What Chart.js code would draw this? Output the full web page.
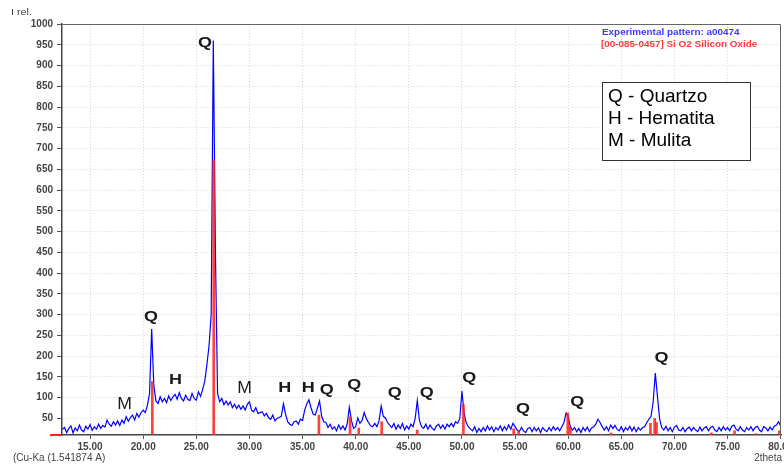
<!DOCTYPE html>
<html>
<head>
<meta charset="utf-8">
<script src="https://cdn.jsdelivr.net/npm/chart.js@4.4.1/dist/chart.umd.min.js"></script>
<style>
  body { margin: 0; background: #fff; }
  #wrap { width: 784px; height: 464px; }
</style>
</head>
<body>
<div id="wrap"><canvas id="xrd" width="784" height="464"></canvas></div>
<script>
// measured pattern, one value every 0.2 deg 2theta starting at 12.4
const START_ANGLE = 12.4;
const ANGLE_STEP = 0.2;
const intensity = [
  24, 28, 16,
  26, 32, 15, 27, 20,
  34, 22, 18, 31, 24,
  35, 21, 30, 24, 36,
  26, 33, 29, 46, 36,
  31, 42, 34, 44, 33,
  46, 38, 54, 43, 52,
  58, 46, 62, 53, 64,
  70, 64, 82, 110, 265,
  130, 92, 86, 102, 90,
  98, 88, 104, 93, 102,
  108, 96, 112, 98, 92,
  106, 96, 93, 110, 98,
  94, 114, 103, 120, 140,
  180, 225, 300, 960, 450,
  110, 90, 98, 83, 92,
  82, 90, 76, 84, 74,
  82, 72, 80, 70, 84,
  90, 70, 66, 76, 62,
  64, 66, 56, 62, 52,
  48, 58, 44, 50, 52,
  55, 85, 60, 42, 36,
  33, 42, 44, 36, 48,
  45, 70, 85, 95, 75,
  60, 58, 75, 92, 55,
  42, 40, 28, 36, 24,
  30, 20, 34, 24, 32,
  22, 36, 77, 45, 26,
  30, 51, 38, 45, 64,
  50, 40, 32, 30, 38,
  30, 44, 80, 55, 51,
  40, 34, 28, 38, 24,
  34, 26, 38, 22, 32,
  24, 36, 30, 50, 93,
  45, 30, 26, 36, 24,
  34, 26, 22, 32, 36,
  26, 34, 24, 36, 30,
  38, 30, 42, 38, 50,
  116, 63, 40, 30, 24,
  20, 30, 16, 26, 18,
  28, 20, 32, 22, 30,
  18, 28, 22, 32, 20,
  30, 22, 34, 24, 38,
  30, 22, 18, 28, 20,
  16, 26, 28, 18, 28,
  20, 27, 16, 28, 22,
  18, 28, 20, 30, 22,
  28, 20, 30, 40, 63,
  55, 30, 22, 28, 18,
  26, 16, 28, 20, 29,
  18, 27, 30, 36, 48,
  40, 30, 22, 30, 20,
  34, 26, 33, 24, 20,
  30, 18, 28, 22, 31,
  20, 29, 18, 28, 22,
  28, 30, 40, 48, 55,
  90, 159, 103, 50, 28,
  22, 31, 20, 28, 18,
  29, 33, 22, 20, 28,
  18, 26, 29, 20, 28,
  22, 18, 29, 20, 27,
  30, 20, 28, 31, 22,
  18, 28, 20, 30, 22,
  28, 20, 31, 34, 24,
  20, 30, 22, 18, 28,
  22, 30, 20, 28, 31,
  22, 18, 30, 27, 20,
  29, 22, 31, 34, 42,
  32
];

// reference card 00-085-0457 (quartz) sticks
const stickAngles = [20.86, 26.64, 36.54, 39.47, 40.29, 42.45, 45.79, 50.14, 50.62, 54.87, 55.33, 57.24,
  59.96, 60.2, 63.04, 64.03, 65.8, 67.74, 68.14, 68.32, 73.47, 75.66, 77.67, 79.88];
const stickHeights = [139, 673, 58, 54, 27, 42, 22, 83, 12, 25, 18, 12,
  63, 30, 12, 15, 11, 38, 50, 40, 15, 20, 13, 20];

const xTicks = [15, 20, 25, 30, 35, 40, 45, 50, 55, 60, 65, 70, 75, 80];
const yTicks = [50, 100, 150, 200, 250, 300, 350, 400, 450, 500, 550, 600, 650, 700, 750, 800, 850, 900, 950, 1000];

const peakLabels = ["Q", "Q", "H", "M", "M", "H", "H", "Q", "Q", "Q", "Q", "Q", "Q", "Q", "Q"];
const peakLabelAngles = [25.83, 20.74, 23.05, 18.25, 29.55, 33.32, 35.53, 37.28, 39.87, 43.68, 46.70, 50.70, 55.74, 60.85, 68.79];
const peakLabelLevels = [957, 297, 145, 86, 125, 125, 125, 121, 134, 115, 115, 149, 75, 93, 199];

const phaseLegend = ["Q - Quartzo", "H - Hematita", "M - Mulita"];

const FONT = "Arial, 'Liberation Sans', sans-serif";
Chart.defaults.font.family = FONT;

const pattern = intensity.map((y, i) => ({ x: +(START_ANGLE + i * ANGLE_STEP).toFixed(2), y }));
const sticks = stickAngles.map((x, i) => ({ x, y: stickHeights[i] }));

function stretchedText(ctx, text, x, y, sx) {
  ctx.save();
  ctx.translate(x, y);
  ctx.scale(sx, 1);
  ctx.fillText(text, 0, 0);
  ctx.restore();
}

const decor = {
  id: "decor",
  afterDraw(chart) {
    const { ctx, chartArea: a, scales } = chart;
    ctx.save();

    // frame top / right
    ctx.strokeStyle = "#666";
    ctx.lineWidth = 1;
    ctx.beginPath();
    ctx.moveTo(a.left, a.top + 0.5);
    ctx.lineTo(a.right - 0.5, a.top + 0.5);
    ctx.lineTo(a.right - 0.5, a.bottom);
    ctx.stroke();

    // little red stub left of the origin
    ctx.strokeStyle = "#ff2020";
    ctx.lineWidth = 2;
    ctx.beginPath();
    ctx.moveTo(a.left - 12, a.bottom);
    ctx.lineTo(a.left, a.bottom);
    ctx.stroke();

    ctx.fillStyle = "#444";
    ctx.textBaseline = "middle";
    ctx.textAlign = "left";
    ctx.font = "9px " + FONT;
    stretchedText(ctx, "I rel.", 11, 13, 1.2);
    ctx.font = "10px " + FONT;
    ctx.fillText("(Cu-Ka (1.541874 A)", 13, 458);
    ctx.textAlign = "right";
    ctx.fillText("2theta", 782, 458);

    // pattern legend
    ctx.textAlign = "left";
    ctx.font = "bold 9px " + FONT;
    ctx.fillStyle = "#3a3aff";
    stretchedText(ctx, "Experimental pattern: a00474", 602, 33, 1.1);
    ctx.fillStyle = "#ff3a3a";
    stretchedText(ctx, "[00-085-0457] Si O2 Silicon Oxide", 601, 45, 1.1);

    // phase box
    ctx.fillStyle = "#fff";
    ctx.fillRect(602, 82, 148, 78);
    ctx.strokeStyle = "#333";
    ctx.lineWidth = 1;
    ctx.strokeRect(602.5, 82.5, 148, 78);
    ctx.fillStyle = "#000";
    ctx.font = "19px " + FONT;
    phaseLegend.forEach((t, i) => ctx.fillText(t, 608, 97 + i * 21.7));

    // peak letters
    ctx.fillStyle = "#1a1a1a";
    ctx.textAlign = "center";
    peakLabels.forEach((t, i) => {
      const px = scales.x.getPixelForValue(peakLabelAngles[i]);
      const py = scales.y.getPixelForValue(peakLabelLevels[i]) + 1;
      if (t === "M") {
        ctx.font = "16px " + FONT;
        stretchedText(ctx, t, px, py, 1.1);
      } else {
        ctx.font = "bold 15px " + FONT;
        stretchedText(ctx, t, px, py, 1.2);
      }
    });

    ctx.restore();
  }
};

new Chart(document.getElementById("xrd"), {
  type: "line",
  data: {
    datasets: [
      {
        type: "bar",
        label: "Si O2",
        data: sticks,
        backgroundColor: "rgba(255, 30, 30, 0.85)",
        barThickness: 2,
        order: 0
      },
      {
        type: "line",
        label: "a00474",
        data: pattern,
        borderColor: "#0000ff",
        borderWidth: 1.2,
        pointRadius: 0,
        tension: 0,
        order: 1
      }
    ]
  },
  options: {
    responsive: false,
    animation: false,
    devicePixelRatio: 1,
    layout: { padding: { top: 24, right: 3, left: 0, bottom: 0 } },
    plugins: { legend: { display: false }, tooltip: { enabled: false } },
    scales: {
      x: {
        type: "linear",
        offset: false,
        min: 12.36,
        max: 80.03,
        afterBuildTicks: (s) => { s.ticks = xTicks.map((v) => ({ value: v })); },
        afterFit: (s) => { s.height = 29; s.paddingLeft = 0; s.paddingRight = 0; },
        ticks: {
          callback: (v) => Number(v).toFixed(2),
          font: { size: 10, weight: "bold" },
          color: "#444",
          padding: 2,
          maxRotation: 0,
          autoSkip: false
        },
        grid: { offset: false, color: "#d4d4d4", tickColor: "#555", tickLength: 4, tickBorderDash: [] },
        border: { color: "#444", width: 1.5, dash: [1, 2] }
      },
      y: {
        min: 10,
        max: 1000,
        afterBuildTicks: (s) => { s.ticks = yTicks.map((v) => ({ value: v })); },
        afterFit: (s) => { s.width = 62; s.paddingTop = 0; s.paddingBottom = 0; },
        ticks: {
          callback: (v) => String(v),
          font: { size: 10, weight: "bold" },
          color: "#444",
          padding: 4,
          autoSkip: false
        },
        grid: { color: "#d4d4d4", tickColor: "#555", tickLength: 5, tickBorderDash: [] },
        border: { color: "#444", width: 1.5, dash: [1, 2] }
      }
    }
  },
  plugins: [decor]
});
</script>
</body>
</html>
